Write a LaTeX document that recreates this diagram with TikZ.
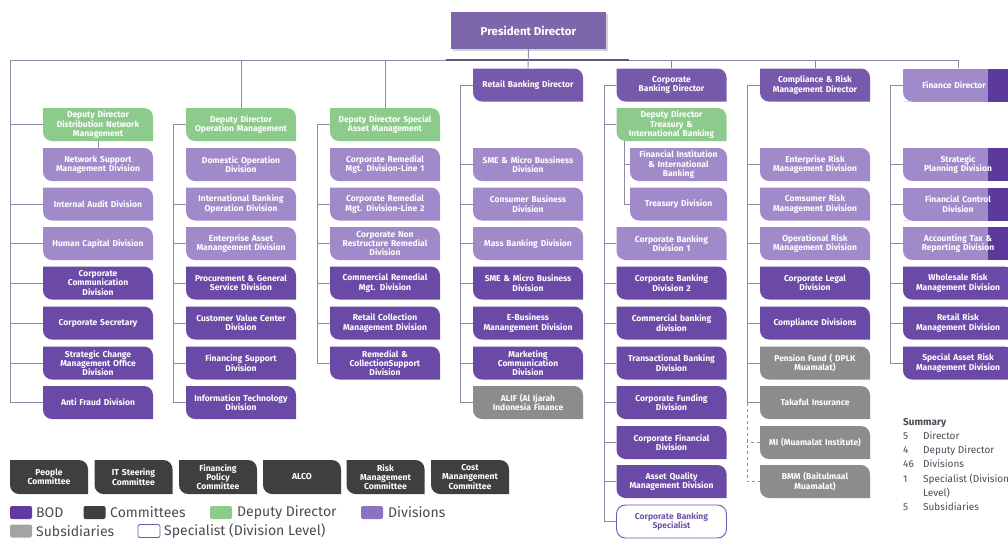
\documentclass[tikz,border=0pt]{standalone}
\usepackage{fontspec}
\setmainfont{Fira Sans}
\usepackage{tikz}
\usetikzlibrary{shadows}

\definecolor{bodc}{HTML}{7659AB}
\definecolor{presc}{HTML}{7E66AC}
\definecolor{lightdiv}{HTML}{A08AC9}
\definecolor{darkdiv}{HTML}{6A4AA6}
\definecolor{deputyc}{HTML}{8CCB8C}
\definecolor{subsc}{HTML}{8C8C8C}
\definecolor{commc}{HTML}{3F3F3F}
\definecolor{linec}{HTML}{8F89A6}
\definecolor{barc}{HTML}{5E5A72}
\definecolor{stripc}{HTML}{5B3A9B}
\definecolor{specc}{HTML}{6F55A8}
\definecolor{legc}{HTML}{4A4A55}
\definecolor{bodkey}{HTML}{5F3B9F}
\definecolor{divkey}{HTML}{8E72C2}

\newcommand{\boxfont}{\fontsize{8.5}{9.3}\selectfont\bfseries}
\newcommand{\sumrow}[2]{\makebox[20pt][l]{#1}#2}

\tikzset{leaf/.style={minimum width=110pt, minimum height=33pt, inner sep=1pt,
    text width=106pt, align=center, text=white, font=\boxfont,
    path picture={\fill[#1] (path picture bounding box.north west)
      -- ([xshift=-9pt]path picture bounding box.north east)
      arc[start angle=90, end angle=0, radius=9pt]
      -- (path picture bounding box.south east)
      -- ([xshift=9pt]path picture bounding box.south west)
      arc[start angle=270, end angle=180, radius=9pt] -- cycle;}}}
\tikzset{finleaf/.style={leaf=#1,
    path picture={\fill[#1] (path picture bounding box.north west)
      rectangle (path picture bounding box.south east);
      \fill[white] ([yshift=9pt]path picture bounding box.south west)
      arc[start angle=180, end angle=270, radius=9pt]
      -- (path picture bounding box.south west) -- cycle;
      \fill[stripc] ([xshift=-25pt]path picture bounding box.north east)
      rectangle (path picture bounding box.south east);}}}
\tikzstyle{conn}=[draw=linec, line width=0.9pt]
\tikzstyle{topbar}=[draw=barc, line width=2pt]
\tikzstyle{pbox}=[fill=presc, minimum width=155pt, minimum height=37pt, text=white,
    font=\fontsize{11.5}{13}\selectfont\bfseries,
    drop shadow={opacity=0.35, shadow xshift=2pt, shadow yshift=-2pt}]
\tikzstyle{spec}=[draw=specc, line width=0.9pt, fill=white, rounded corners=9pt,
    minimum width=110pt, minimum height=33pt, inner sep=1pt, text width=106pt,
    align=center, text=specc, font=\boxfont]
\tikzstyle{comm}=[leaf=commc, minimum width=78pt, minimum height=34pt, text width=76pt,
    font=\fontsize{8.6}{9.2}\selectfont\bfseries]
\tikzstyle{key}=[minimum width=22pt, minimum height=13pt, inner sep=0pt, rounded corners=2pt]
\tikzstyle{keytext}=[anchor=west, text=legc, font=\fontsize{14}{16}\selectfont, inner sep=0pt]

\begin{document}
\begin{tikzpicture}[x=1pt, y=-1pt]
\path[use as bounding box, clip] (0,0) rectangle (1008,539);

% board
\node[pbox] (pres) at (528.5,30.5) {President Director};
\node[leaf=bodc] (rb) at (528,85) {Retail Banking Director};
\node[leaf=bodc] (cb) at (671.5,85) {Corporate\\Banking Director};
\node[leaf=bodc] (cr) at (815,85) {Compliance \& Risk\\Management Director};
\node[finleaf=lightdiv] (fd) at (958,85) {Finance Director\hspace*{8pt}};

% deputy directors
\node[leaf=deputyc] (dd1) at (98,124.5) {Deputy Director\\Distribution Network\\Management};
\node[leaf=deputyc] (dd2) at (241,124.5) {Deputy Director\\Operation Management};
\node[leaf=deputyc] (dd3) at (385,124.5) {Deputy Director Special\\Asset Management};
\node[leaf=deputyc] (dd5) at (671.5,124.5) {Deputy Director\\Treasury \&\\International Banking};

% column 1
\node[leaf=lightdiv] (ns) at (98,164.5) {Network Support\\Management Division};
\node[leaf=lightdiv] (ia) at (98,204) {Internal Audit Division};
\node[leaf=lightdiv] (hc) at (98,243.5) {Human Capital Division};
\node[leaf=darkdiv] (cc) at (98,283) {Corporate\\Communication\\Division};
\node[leaf=darkdiv] (cs) at (98,323) {Corporate Secretary};
\node[leaf=darkdiv] (sc) at (98,363) {Strategic Change\\Management Office\\Division};
\node[leaf=darkdiv] (af) at (98,402.5) {Anti Fraud Division};

% column 2
\node[leaf=lightdiv] (dom) at (241,164.5) {Domestic Operation\\Division};
\node[leaf=lightdiv] (ibo) at (241,204) {International Banking\\Operation Division};
\node[leaf=lightdiv] (eam) at (241,243.5) {Enterprise Asset\\Manangement Division};
\node[leaf=darkdiv] (pgs) at (241,283) {Procurement \& General\\Service Division};
\node[leaf=darkdiv] (cvc) at (241,323) {Customer Value Center\\Division};
\node[leaf=darkdiv] (fs) at (241,363) {Financing Support\\Division};
\node[leaf=darkdiv] (itd) at (241,402.5) {Information Technology\\Division};

% column 3
\node[leaf=lightdiv] (crm1) at (385,164.5) {Corporate Remedial\\Mgt. Division-Line 1};
\node[leaf=lightdiv] (crm2) at (385,204) {Corporate Remedial\\Mgt. Division-Line 2};
\node[leaf=lightdiv] (cnr) at (385,243.5) {Corporate Non\\Restructure Remedial\\Division};
\node[leaf=darkdiv] (crd) at (385,283) {Commercial Remedial\\Mgt. Division};
\node[leaf=darkdiv] (rcm) at (385,323) {Retail Collection\\Management Division};
\node[leaf=darkdiv] (rcs) at (385,363) {Remedial \&\\CollectionSupport\\Division};

% column 4
\node[leaf=lightdiv] (sme1) at (528,164.5) {SME \& Micro Bussiness\\Division};
\node[leaf=lightdiv] (cbs) at (528,204) {Consumer Business\\Division};
\node[leaf=lightdiv] (mbd) at (528,243.5) {Mass Banking Division};
\node[leaf=darkdiv] (sme2) at (528,283) {SME \& Micro Business\\Division};
\node[leaf=darkdiv] (ebm) at (528,323) {E-Business\\Manangement Division};
\node[leaf=darkdiv] (mcd) at (528,363) {Marketing\\Communication\\Division};
\node[leaf=subsc] (alif) at (528,402.5) {ALIF (Al Ijarah\\Indonesia Finance};

% column 5
\node[leaf=lightdiv, minimum width=97pt, text width=95pt] (fii) at (678.5,164.5) {Financial Institution\\\& International\\Banking};
\node[leaf=lightdiv, minimum width=97pt, text width=95pt] (tsy) at (678.5,204) {Treasury Division};
\node[leaf=lightdiv] (cbd1) at (671.5,243.5) {Corporate Banking\\Division 1};
\node[leaf=darkdiv] (cbd2) at (671.5,283) {Corporate Banking\\Division 2};
\node[leaf=darkdiv] (cmb) at (671.5,323) {Commercial banking\\division};
\node[leaf=darkdiv] (tbd) at (671.5,363) {Transactional Banking\\Division};
\node[leaf=darkdiv] (cfu) at (671.5,402.5) {Corporate Funding\\Division};
\node[leaf=darkdiv] (cfi) at (671.5,442.5) {Corporate Financial\\Division};
\node[leaf=darkdiv] (aqm) at (671.5,481.5) {Asset Quality\\Management Division};
\node[spec] (cbsp) at (671.5,521.5) {Corporate Banking\\Specialist};

% column 6
\node[leaf=lightdiv] (erm) at (815,164.5) {Enterprise Risk\\Management Division};
\node[leaf=lightdiv] (csr) at (815,204) {Comsumer Risk\\Management Division};
\node[leaf=lightdiv] (orm) at (815,243.5) {Operational Risk\\Management Division};
\node[leaf=darkdiv] (cld) at (815,283) {Corporate Legal\\Division};
\node[leaf=darkdiv] (cpd) at (815,323) {Compliance Divisions};
\node[leaf=subsc] (pen) at (815,363) {Pension Fund ( DPLK\\Muamalat)};
\node[leaf=subsc] (tak) at (815,402.5) {Takaful Insurance};
\node[leaf=subsc] (mi) at (815,442.5) {MI (Muamalat Institute)};
\node[leaf=subsc] (bmm) at (815,481.5) {BMM (Baitulmaal\\Muamalat)};

% column 7
\node[finleaf=lightdiv] (spd) at (958,164.5) {Strategic\\Planning Division};
\node[finleaf=lightdiv] (fcd) at (958,204) {Financial Control\\Division};
\node[finleaf=lightdiv] (atr) at (958,243.5) {Accounting Tax \&\\Reporting Division};
\node[leaf=darkdiv] (wrm) at (958,283) {Wholesale Risk\\Management Division};
\node[leaf=darkdiv] (rrm) at (958,323) {Retail Risk\\Management Division};
\node[leaf=darkdiv] (sar) at (958,363) {Special Asset Risk\\Management Division};

% connectors
\coordinate (tl) at (10,60);
\coordinate (ul) at (446,60);
\coordinate (ur) at (629,60);
\draw[conn] (af.west) -| (tl) -- (fd.north |- tl) -- (fd.north);
\draw[topbar] (ul) -- (ur);
\draw[conn] (pres.south) -- (rb.north);
\foreach \n in {dd2,dd3,cb,cr}
  \draw[conn] (\n.north) -- (\n.north |- tl);

\foreach \n in {dd1,ia,hc,cc,cs,sc}
  \draw[conn] (\n.west) -- (\n.west -| tl);
\draw[conn] (dd1.south) -- (ns.north);

\coordinate (r2) at (173,124.5);
\draw[conn] (dd2.west) -- (r2) |- (itd.west);
\foreach \n in {ibo,eam,pgs,cvc,fs}
  \draw[conn] (\n.west) -- (\n.west -| r2);

\coordinate (r3) at (317,124.5);
\draw[conn] (dd3.west) -- (r3) |- (rcs.west);
\foreach \n in {crm2,cnr,crd,rcm}
  \draw[conn] (\n.west) -- (\n.west -| r3);

\coordinate (r4) at (460,85);
\draw[conn] (rb.west) -- (r4) |- (alif.west);
\foreach \n in {sme1,cbs,mbd,sme2,ebm,mcd}
  \draw[conn] (\n.west) -- (\n.west -| r4);

\coordinate (r5) at (604,85);
\draw[conn] (cb.west) -- (r5) |- (cbsp.west);
\foreach \n in {dd5,cbd1,cbd2,cmb,tbd,cfu,cfi,aqm}
  \draw[conn] (\n.west) -- (\n.west -| r5);
\coordinate (s5) at (624,141);
\draw[conn] (s5) |- (tsy.west);
\draw[conn] (fii.west) -- (fii.west -| s5);

\coordinate (r6) at (747,85);
\draw[conn] (cr.west) -- (r6) |- (tak.west);
\foreach \n in {erm,csr,orm,cld,cpd,pen}
  \draw[conn] (\n.west) -- (\n.west -| r6);
\draw[conn, dashed] (tak.west -| r6) |- (bmm.west);
\draw[conn, dashed] (mi.west) -- (mi.west -| r6);

\coordinate (r7) at (890,85);
\draw[conn] (fd.west) -- (r7) |- (sar.west);
\foreach \n in {spd,fcd,atr,wrm,rrm}
  \draw[conn] (\n.west) -- (\n.west -| r7);

% committees
\node[comm] (k1) at (49,477) {People\\Committee};
\node[comm] (k2) at (133.5,477) {IT Steering\\Committee};
\node[comm] (k3) at (218,477) {Financing\\Policy\\Committee};
\node[comm] (k4) at (302,477) {ALCO};
\node[comm] (k5) at (385.5,477) {Risk\\Management\\Committee};
\node[comm] (k6) at (470,477) {Cost\\Manangement\\Committee};

% legend
\node[key, fill=bodkey] (kb) at (21,512.5) {};
\node[keytext] (tb) at (36,512.5) {BOD};
\node[key, fill=commc] (kc) at (94.5,512.5) {};
\node[keytext] (tc) at (110,512.5) {Committees};
\node[key, fill=deputyc] (kd) at (221,512.5) {};
\node[keytext] (td) at (237,512.5) {Deputy Director};
\node[key, fill=divkey] (kv) at (372,512.5) {};
\node[keytext] (tv) at (388,512.5) {Divisions};
\node[key, fill=subsc!80] (ks) at (21,531) {};
\node[keytext] (ts) at (36,531) {Subsidiaries};
\node[key, draw=specc, fill=white, line width=0.8pt] (kp) at (149,531) {};
\node[keytext] (tp) at (164,531) {Specialist (Division Level)};

% summary
\node[anchor=north west, inner sep=0pt, text=legc, align=left,
  font=\fontsize{10}{14.2}\selectfont] (sum) at (903,418)
  {\textbf{Summary}\\
   \sumrow{5}{Director}\\
   \sumrow{4}{Deputy Director}\\
   \sumrow{46}{Divisions}\\
   \sumrow{1}{Specialist (Division}\\
   \sumrow{}{Level)}\\
   \sumrow{5}{Subsidiaries}};
\end{tikzpicture}
\end{document}
